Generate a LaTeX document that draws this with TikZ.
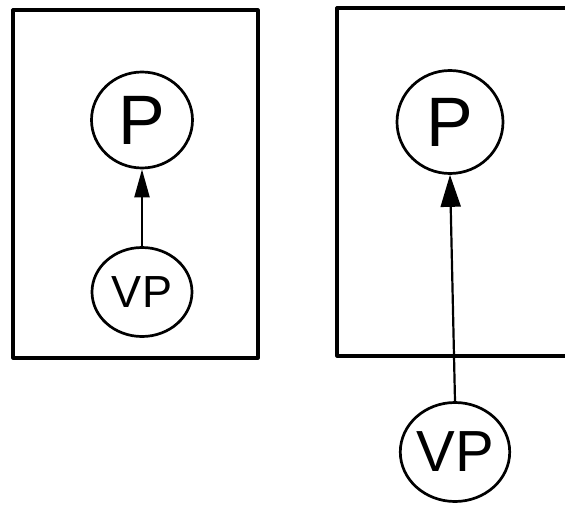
\documentclass[tikz,border=0pt]{standalone}
\usepackage{fontspec}
\setmainfont{Liberation Sans}
\usetikzlibrary{shapes.geometric,arrows.meta}
\tikzset{
  frame/.style={line width=3.2pt, line cap=round, line join=round},
  cat/.style={ellipse, draw, line width=2.7pt, inner sep=0pt},
  dom/.style={line width=2.2pt},
}
\begin{document}
\begin{tikzpicture}[x=1pt,y=-1pt]
  \useasboundingbox (0,0) rectangle (565,506);

  % left panel: both categories inside the box
  \draw[frame] (13,10) rectangle (258,358);
  \node[cat, minimum width=101pt, minimum height=96pt, font=\fontsize{70}{70}\selectfont] (p1) at (142,120) {P};
  \node[cat, minimum width=100pt, minimum height=89pt, font=\fontsize{45}{45}\selectfont] (vp1) at (142,292) {VP};
  \draw[dom, -{Triangle[length=28pt,width=15pt]}] (vp1) -- (p1);

  % right panel: the VP sits outside the box
  \draw[frame] (568,8) -- (337,8) -- (337,356) -- (568,356);
  \node[cat, minimum width=106pt, minimum height=103pt, font=\fontsize{70}{70}\selectfont] (p2) at (450,122) {P};
  \node[cat, minimum width=104pt, minimum height=99pt, font=\fontsize{58}{58}\selectfont] (vp2) at (455,452) {VP};
  \draw[dom, -{Triangle[length=32pt,width=20pt]}] (vp2.north) -- (p2.south);
\end{tikzpicture}
\end{document}
